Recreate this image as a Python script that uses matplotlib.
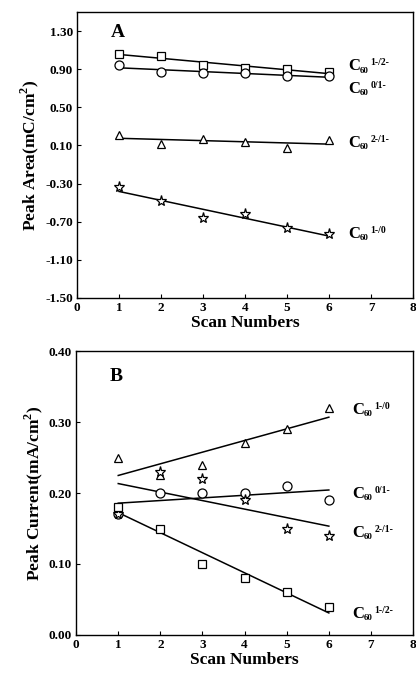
import numpy as np
import matplotlib
matplotlib.use("Agg")
import matplotlib.pyplot as plt

plt.rcParams['font.family'] = ['Liberation Serif', 'DejaVu Serif']
plt.rcParams['font.weight'] = 'bold'
plt.rcParams['mathtext.fontset'] = 'custom'
plt.rcParams['mathtext.rm'] = 'Liberation Serif:bold'
plt.rcParams['mathtext.bf'] = 'Liberation Serif:bold'

## Data
scans = [1, 2, 3, 4, 5, 6]

# Panel A - peak area (mC/cm2)
a_sq = [1.06, 1.04, 0.95, 0.91, 0.90, 0.87]     # C60 1-/2-
a_ci = [0.945, 0.87, 0.86, 0.86, 0.83, 0.83]    # C60 0/1-
a_tr = [0.21, 0.12, 0.17, 0.14, 0.07, 0.16]     # C60 2-/1-
a_st = [-0.34, -0.48, -0.66, -0.62, -0.77, -0.83]  # C60 1-/0

# Panel B - peak current (mA/cm2)
b_tr = [0.25, 0.225, 0.24, 0.27, 0.29, 0.32]    # C60 1-/0
b_ci = [0.17, 0.20, 0.20, 0.20, 0.21, 0.19]     # C60 0/1-
b_st = [0.17, 0.23, 0.22, 0.19, 0.15, 0.14]     # C60 2-/1-
b_sq = [0.18, 0.15, 0.10, 0.08, 0.06, 0.04]     # C60 1-/2-

a_ticks = [-1.50, -1.10, -0.70, -0.30, 0.10, 0.50, 0.90, 1.30]
b_ticks = [0.00, 0.10, 0.20, 0.30, 0.40]

# marker sizes per shape
msize = {'s': 6, 'o': 6.5, '^': 6, '*': 8}


def series(ax, y, marker):
    x = np.array(scans, dtype=float)
    y = np.array(y)
    m, c = np.polyfit(x, y, 1)
    ax.plot(x, m * x + c, color='black', lw=1.1, zorder=2)
    ax.plot(x, y, linestyle='none', marker=marker, ms=msize[marker],
            mfc='white', mec='black', mew=0.9, zorder=3)


def c60_label(ax, x, y, sup):
    ax.annotate('C', (x, y), fontsize=12, va='center', ha='left')
    ax.annotate('60', (x, y), xytext=(8.5, -3), textcoords='offset points',
                fontsize=6.5, va='center', ha='left')
    ax.annotate(sup, (x, y), xytext=(16, 2.5), textcoords='offset points',
                fontsize=7, va='center', ha='left')


def style(ax):
    ax.set_xlim(0, 8)
    ax.set_xticks(range(0, 9))
    ax.tick_params(direction='in', length=3, width=0.8, labelsize=9.5,
                   top=False, right=False, pad=3)
    for s in ax.spines.values():
        s.set_linewidth(1.0)
    ax.set_xlabel('Scan Numbers', fontsize=12.5, fontweight='bold', labelpad=1)


fig = plt.figure(figsize=(4.16, 6.74), dpi=100)

# Panel A
ax1 = fig.add_axes([0.185, 0.558, 0.808, 0.424])
series(ax1, a_sq, 's')
series(ax1, a_ci, 'o')
series(ax1, a_tr, '^')
series(ax1, a_st, '*')
style(ax1)
ax1.set_ylim(-1.5, 1.5)
ax1.set_yticks(a_ticks)
ax1.set_yticklabels(['%.2f' % v for v in a_ticks])
ax1.set_ylabel('Peak Area(mC/cm$^2$)', fontsize=12.5, fontweight='bold', labelpad=3)
ax1.text(0.10, 0.93, 'A', transform=ax1.transAxes, fontsize=14,
         fontweight='bold', va='center')
c60_label(ax1, 6.45, 0.93, '1-/2-')
c60_label(ax1, 6.45, 0.69, '0/1-')
c60_label(ax1, 6.45, 0.13, '2-/1-')
c60_label(ax1, 6.45, -0.83, '1-/0')

# Panel B
ax2 = fig.add_axes([0.183, 0.058, 0.810, 0.421])
series(ax2, b_tr, '^')
series(ax2, b_ci, 'o')
series(ax2, b_st, '*')
series(ax2, b_sq, 's')
style(ax2)
ax2.set_ylim(0, 0.4)
ax2.set_yticks(b_ticks)
ax2.set_yticklabels(['%.2f' % v for v in b_ticks])
ax2.set_ylabel('Peak Current(mA/cm$^2$)', fontsize=12.5, fontweight='bold', labelpad=3)
ax2.text(0.10, 0.91, 'B', transform=ax2.transAxes, fontsize=14,
         fontweight='bold', va='center')
c60_label(ax2, 6.55, 0.317, '1-/0')
c60_label(ax2, 6.55, 0.199, '0/1-')
c60_label(ax2, 6.55, 0.144, '2-/1-')
c60_label(ax2, 6.55, 0.030, '1-/2-')

fig.savefig('out.png', dpi=100)
